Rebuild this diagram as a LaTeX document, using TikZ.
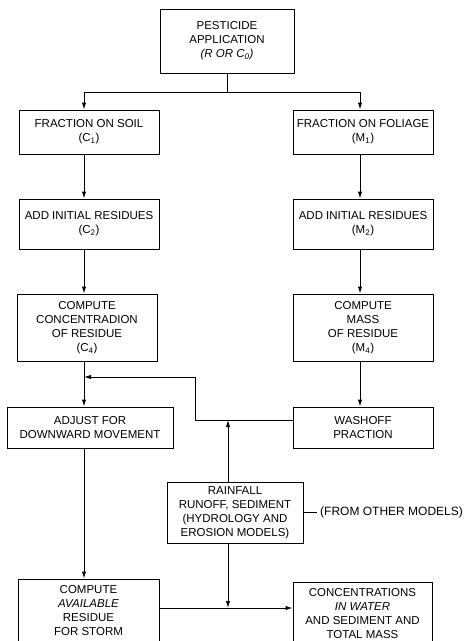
\documentclass[tikz,border=0pt]{standalone}
\usepackage{fontspec}
\setmainfont{Liberation Sans}
\usetikzlibrary{arrows.meta}

\tikzset{
  box/.style={draw, line width=1pt, inner sep=0pt, align=center,
    font=\fontsize{11.5}{14}\selectfont},
  flow/.style={line width=1pt, -{Latex[length=7pt,width=4.5pt]}},
  link/.style={line width=1pt}
}

\begin{document}
\begin{tikzpicture}[x=1pt,y=-1pt]
  \useasboundingbox (0,0) rectangle (466,641);

  % boxes, placed at their centres
  \node[box, minimum width=134pt, minimum height=64pt] (app) at (227,41)
    {PESTICIDE\\APPLICATION\\{\itshape (R OR C\textsubscript{0})}};
  \node[box, minimum width=140pt, minimum height=44pt] (soil) at (89,132)
    {FRACTION ON SOIL\\(C\textsubscript{1})};
  \node[box, minimum width=140pt, minimum height=44pt] (foliage) at (363,132)
    {FRACTION ON FOLIAGE\\(M\textsubscript{1})};
  \node[box, minimum width=140pt, minimum height=50pt] (initc) at (89,224)
    {ADD INITIAL RESIDUES\\(C\textsubscript{2})};
  \node[box, minimum width=140pt, minimum height=50pt] (initm) at (363,224)
    {ADD INITIAL RESIDUES\\(M\textsubscript{2})};
  \node[box, minimum width=140pt, minimum height=67pt] (concres) at (87,327.5)
    {COMPUTE\\CONCENTRADION\\OF RESIDUE\\(C\textsubscript{4})};
  \node[box, minimum width=140pt, minimum height=67pt] (massres) at (363,327.5)
    {COMPUTE\\MASS\\OF RESIDUE\\(M\textsubscript{4})};
  \node[box, minimum width=166pt, minimum height=41pt] (adjust) at (90,427.5)
    {ADJUST FOR\\DOWNWARD MOVEMENT};
  \node[box, minimum width=140pt, minimum height=41pt] (wash) at (363,427.5)
    {WASHOFF\\PRACTION};
  \node[box, minimum width=136pt, minimum height=61pt] (rain) at (235,512.5)
    {RAINFALL\\RUNOFF, SEDIMENT\\(HYDROLOGY AND\\EROSION MODELS)};
  \node[font=\fontsize{12}{14}\selectfont, anchor=west, inner sep=0pt] (other) at (320,512.5)
    {(FROM OTHER MODELS)};
  \node[box, minimum width=141pt, minimum height=63pt] (avail) at (88.5,610.5)
    {COMPUTE\\{\itshape AVAILABLE}\\RESIDUE\\FOR STORM};
  \node[box, minimum width=139pt, minimum height=63pt] (conc) at (362.5,613.5)
    {CONCENTRATIONS\\{\itshape IN WATER}\\AND SEDIMENT AND\\TOTAL MASS};

  % helper points
  \coordinate (split) at (227,92);
  \coordinate (lcol) at (84,0);
  \coordinate (rcol) at (360,0);
  \coordinate (knee) at (195,377);
  \coordinate (wjoin) at (293,420);
  \coordinate (rx) at (228,0);
  \coordinate (join) at (228,608);

  \draw[link] (app.south) -- (split);
  \draw[flow] (split) -| (lcol |- soil.north);
  \draw[flow] (split) -| (rcol |- foliage.north);

  \draw[flow] (lcol |- soil.south) -- (lcol |- initc.north);
  \draw[flow] (lcol |- initc.south) -- (lcol |- concres.north);
  \draw[flow] (lcol |- concres.south) -- (lcol |- adjust.north);
  \draw[flow] (lcol |- adjust.south) -- (lcol |- avail.north);

  \draw[flow] (rcol |- foliage.south) -- (rcol |- initm.north);
  \draw[flow] (rcol |- initm.south) -- (rcol |- massres.north);
  \draw[flow] (rcol |- massres.south) -- (rcol |- wash.north);

  \draw[flow] (wjoin) -| (knee) -- (lcol |- knee);
  \draw[flow] (rx |- rain.north) -- (rx |- wjoin);
  \draw[flow] (rx |- rain.south) -- (join);
  \draw[flow] (avail.east |- join) -- (conc.west |- join);
  \draw[link] (rain.east) -- ([xshift=-3pt]other.west);
\end{tikzpicture}
\end{document}
